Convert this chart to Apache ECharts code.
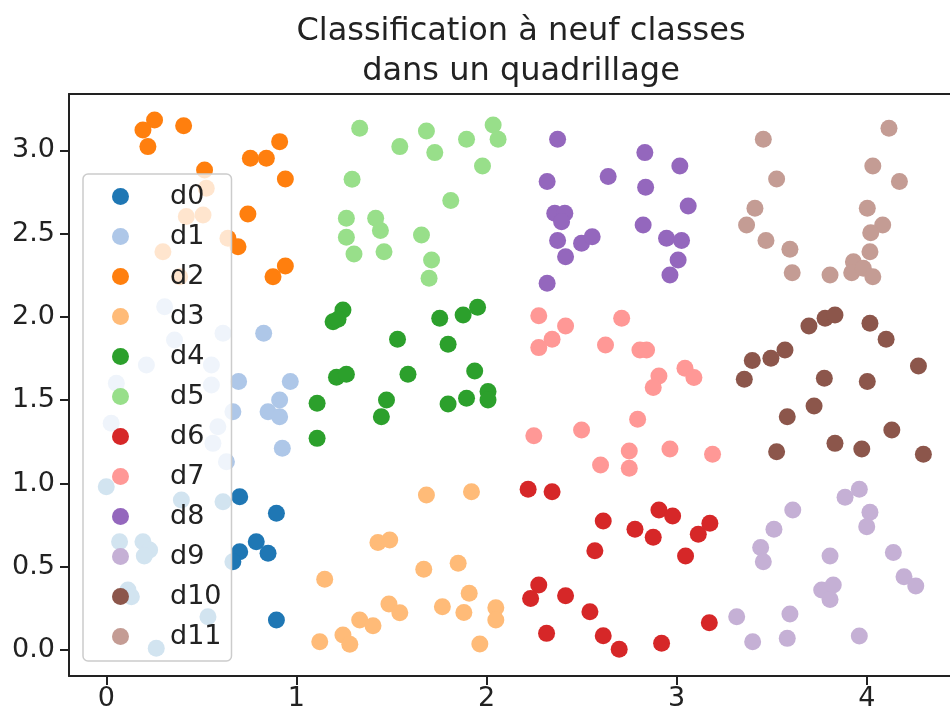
<!DOCTYPE html>
<html>
<head>
<meta charset="utf-8">
<script src="https://cdn.jsdelivr.net/npm/echarts@6/dist/echarts.min.js"></script>
<style>
html,body{margin:0;padding:0;background:#fff;}
#main{width:950px;height:719px;}
</style>
</head>
<body>
<div id="main"></div>
<script>
// points of each class, [x, y]
var d0 = [[0.702,0.921],[0.895,0.821],[0.702,0.590],[0.789,0.650],[0.851,0.581],[0.666,0.530],[0.895,0.180],
  [0.0,0.981],[0.395,0.901],[0.614,0.891],[0.07,0.650],[0.193,0.650],[0.228,0.601],[0.2,0.565],
  [0.114,0.360],[0.132,0.320],[0.535,0.200],[0.263,0.010]];
var d1 = [[0.828,1.902],[0.696,1.612],[0.968,1.612],[0.912,1.502],[0.851,1.431],[0.912,1.401],[0.666,1.431],[0.926,1.211],
  [0.307,2.062],[0.614,1.902],[0.359,1.862],[0.211,1.712],[0.553,1.712],[0.053,1.602],[0.553,1.592],
  [0.026,1.362],[0.587,1.341],[0.561,1.241],[0.632,1.131]];
var d2 = [[0.254,3.183],[0.193,3.123],[0.219,3.023],[0.407,3.149],[0.912,3.053],[0.758,2.953],[0.842,2.953],
  [0.942,2.829],[0.517,2.883],[0.745,2.619],[0.693,2.422],[0.942,2.306],[0.877,2.242],
  [0.526,2.773],[0.509,2.613],[0.421,2.603],[0.64,2.473],[0.298,2.392],[0.386,2.242]];
var d3 = [[1.684,0.931],[1.921,0.951],[1.429,0.645],[1.491,0.661],[1.149,0.425],[1.670,0.485],[1.851,0.521],
  [1.909,0.341],[1.487,0.276],[1.544,0.224],[1.768,0.260],[1.881,0.226],[2.049,0.254],[2.049,0.180],
  [1.333,0.180],[1.403,0.146],[1.123,0.050],[1.245,0.090],[1.281,0.034],[1.965,0.036]];
var d4 = [[1.245,2.042],[1.193,1.972],[1.219,1.986],[1.754,1.992],[1.877,2.012],[1.953,2.058],[1.532,1.866],
  [1.798,1.836],[1.211,1.638],[1.263,1.656],[1.587,1.656],[1.938,1.676],[1.109,1.482],[1.474,1.502],
  [1.447,1.401],[1.798,1.477],[1.895,1.512],[2.008,1.552],[2.008,1.502],[1.109,1.271]];
var d5 = [[1.333,3.133],[1.544,3.023],[1.684,3.117],[1.728,2.987],[1.895,3.067],[2.035,3.153],[2.061,3.067],
  [1.979,2.907],[1.293,2.827],[1.812,2.699],[1.263,2.593],[1.417,2.593],[1.442,2.519],[1.263,2.479],
  [1.658,2.492],[1.303,2.378],[1.461,2.392],[1.711,2.342],[1.698,2.232]];
var d6 = [[2.219,0.965],[2.345,0.951],[2.614,0.775],[2.781,0.725],[2.877,0.677],[2.907,0.841],[2.979,0.805],
  [2.57,0.596],[3.047,0.565],[3.114,0.695],[3.175,0.761],[2.275,0.390],[2.232,0.310],[2.416,0.326],
  [2.544,0.230],[2.316,0.100],[2.614,0.086],[2.698,0.004],[2.921,0.040],[3.172,0.164]];
var d7 = [[2.275,2.008],[2.416,1.946],[2.345,1.866],[2.275,1.816],[2.711,1.992],[2.626,1.832],[2.807,1.802],
  [2.842,1.802],[2.907,1.646],[2.877,1.576],[3.044,1.692],[3.091,1.636],[2.795,1.386],[2.249,1.287],
  [2.5,1.321],[2.751,1.195],[2.751,1.091],[2.6,1.111],[2.965,1.207],[3.189,1.175]];
var d8 = [[2.374,3.067],[2.833,2.987],[3.017,2.907],[2.319,2.813],[2.640,2.843],[2.837,2.779],[3.061,2.667],
  [2.359,2.623],[2.412,2.623],[2.395,2.572],[2.824,2.553],[2.374,2.459],[2.5,2.443],[2.556,2.482],
  [2.947,2.473],[3.026,2.459],[2.416,2.362],[3.008,2.342],[2.965,2.252],[2.319,2.202]];
var d9 = [[3.611,0.841],[3.512,0.725],[3.442,0.615],[3.456,0.530],[3.886,0.917],[3.961,0.965],[4.017,0.827],
  [4.0,0.741],[3.807,0.565],[4.14,0.585],[4.196,0.440],[4.258,0.384],[3.763,0.360],[3.824,0.390],
  [3.807,0.304],[3.316,0.200],[3.596,0.216],[3.4,0.050],[3.582,0.070],[3.961,0.084]];
var d10 = [[3.696,1.946],[3.781,1.992],[3.833,2.012],[4.017,1.962],[4.102,1.866],[3.398,1.738],[3.496,1.752],
  [3.57,1.802],[3.356,1.626],[3.777,1.632],[4.003,1.612],[4.272,1.706],[3.723,1.466],[3.582,1.401],
  [4.132,1.321],[3.833,1.241],[3.974,1.207],[3.526,1.191],[4.298,1.175]];
var d11 = [[3.456,3.067],[4.117,3.133],[3.526,2.829],[4.032,2.907],[4.172,2.813],[3.412,2.653],[3.368,2.553],
  [3.47,2.459],[3.596,2.407],[3.608,2.266],[3.807,2.252],[4.003,2.653],[4.084,2.553],[4.021,2.506],
  [4.017,2.392],[3.93,2.332],[3.921,2.266],[3.982,2.292],[4.032,2.242]];

var noms = ['d0','d1','d2','d3','d4','d5','d6','d7','d8','d9','d10','d11'];
var classes = [d0,d1,d2,d3,d4,d5,d6,d7,d8,d9,d10,d11];
var couleurs = ['#1f77b4','#aec7e8','#ff7f0e','#ffbb78','#2ca02c','#98df8a',
                '#d62728','#ff9896','#9467bd','#c5b0d5','#8c564b','#c49c94'];
var xTicks = [0,1,2,3,4];
var yTicks = [0,0.5,1,1.5,2,2.5,3];

var police = 'DejaVu Sans';
var noir = '#222';
var chart = echarts.init(document.getElementById('main'));

var series = [];
for (var i = 0; i < classes.length; i++) {
  series.push({
    name: noms[i],
    type: 'scatter',
    data: classes[i],
    symbol: 'circle',
    symbolSize: 17,
    itemStyle: {color: couleurs[i], opacity: 1},
    emphasis: {disabled: true}
  });
}

// le cadre : bas, gauche et haut (le cote droit sort de l'image)
var option = {
  animation: false,
  backgroundColor: '#fff',
  title: {
    text: 'Classification à neuf classes\ndans un quadrillage',
    left: 516,
    top: 7,
    textAlign: 'center',
    textStyle: {fontFamily: police, fontSize: 32, fontWeight: 'normal', color: noir, lineHeight: 40}
  },
  legend: {
    orient: 'vertical',
    left: 83,
    top: 174,
    data: noms,
    icon: 'circle',
    itemWidth: 17,
    itemHeight: 17,
    itemGap: 13,
    padding: [9, 10, 11, 29],
    backgroundColor: 'rgba(255,255,255,0.8)',
    borderColor: '#cccccc',
    borderWidth: 1.5,
    borderRadius: 5,
    textStyle: {fontFamily: police, fontSize: 27, color: noir, padding: [0,0,0,36]}
  },
  grid: {left: 69, right: 0, top: 94, bottom: 43},
  xAxis: [{
    type: 'value',
    min: -0.196, max: 4.438,
    splitLine: {show: false},
    axisLine: {show: true, onZero: false, lineStyle: {color: noir, width: 2}},
    axisTick: {show: true, customValues: xTicks, length: 9, lineStyle: {color: noir, width: 2}},
    axisLabel: {customValues: xTicks, margin: 9, fontFamily: police, fontSize: 27, color: noir,
      formatter: function (v) { return String(v); }}
  }, {
    type: 'value',
    position: 'top',
    min: -0.196, max: 4.438,
    splitLine: {show: false},
    axisLine: {show: true, onZero: false, lineStyle: {color: noir, width: 2}},
    axisTick: {show: false},
    axisLabel: {show: false}
  }],
  yAxis: {
    type: 'value',
    min: -0.156, max: 3.339,
    splitLine: {show: false},
    axisLine: {show: true, onZero: false, lineStyle: {color: noir, width: 2}},
    axisTick: {show: true, customValues: yTicks, length: 9, lineStyle: {color: noir, width: 2}},
    axisLabel: {customValues: yTicks, margin: 14, fontFamily: police, fontSize: 27, color: noir,
      formatter: function (v) { return v.toFixed(1); }}
  },
  series: series
};
chart.setOption(option);
</script>
</body>
</html>
